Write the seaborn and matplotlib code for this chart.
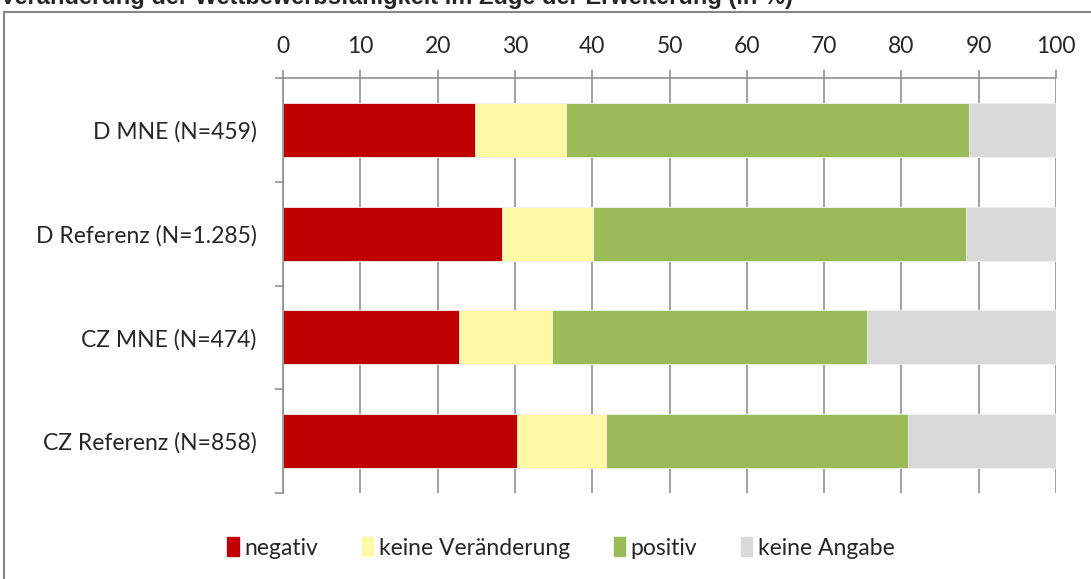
import pandas as pd
import matplotlib.pyplot as plt
import matplotlib.patches as mpatches
import seaborn as sns

sns.set_theme(style="white")
plt.rcParams["font.family"] = ["Lato", "DejaVu Sans"]

# -----------------------------
# DATA (in %)
# -----------------------------
groups = ["D MNE (N=459)", "D Referenz (N=1.285)", "CZ MNE (N=474)", "CZ Referenz (N=858)"]
negativ = [24.9, 28.3, 22.8, 30.3]
keine_veraenderung = [11.7, 11.8, 12.0, 11.5]
positiv = [52.1, 48.2, 40.8, 39.0]
keine_angabe = [11.3, 11.7, 24.4, 19.2]

series_names = ["negativ", "keine Veränderung", "positiv", "keine Angabe"]
colors = ["#C00000", "#FFF9A6", "#9BBB59", "#D9D9D9"]
x_ticks = list(range(0, 101, 10))

df = pd.DataFrame({
    "group": groups,
    "negativ": negativ,
    "keine Veränderung": keine_veraenderung,
    "positiv": positiv,
    "keine Angabe": keine_angabe,
})
# cumulative sums so the bars can be stacked by overlaying
cum = df[series_names].cumsum(axis=1)
cum["group"] = df["group"]

fig = plt.figure(figsize=(10.91, 5.79), dpi=100)
ax = fig.add_axes([283 / 1091, 1 - 493 / 579, (1056 - 283) / 1091, (493 - 78) / 579])

grid_col = "#898989"
fs = 16.5
ax.set_axisbelow(True)
ax.xaxis.grid(True, color=grid_col, linewidth=1.1)

# draw from the last (longest) segment to the first
for name, col in reversed(list(zip(series_names, colors))):
    sns.barplot(data=cum, x=name, y="group", color=col, width=0.52,
                orient="h", ax=ax, saturation=1, edgecolor="#F2F2F2", linewidth=0.6,
                zorder=2)

ax.set_xlim(0, 100)
ax.set_ylim(3.5, -0.5)
ax.set_xlabel("")
ax.set_ylabel("")

# x axis on top
ax.xaxis.tick_top()
ax.set_xticks(x_ticks)
ax.tick_params(axis="x", which="major", length=6, width=1.1, color=grid_col,
               labelsize=fs, pad=9, direction="out")
ax.tick_params(axis="y", which="major", length=0, labelsize=fs, pad=19)
ax.set_yticks(range(len(groups)), groups)
ax.set_yticks([-0.5, 0.5, 1.5, 2.5, 3.5], minor=True)
ax.tick_params(axis="y", which="minor", length=6, width=1.1, color=grid_col, left=True)

for s in ["right", "bottom"]:
    ax.spines[s].set_visible(False)
for s in ["top", "left"]:
    ax.spines[s].set_color(grid_col)
    ax.spines[s].set_linewidth(1.1)

# legend in the requested order
handles = [mpatches.Patch(color=c, label=n) for n, c in zip(series_names, colors)]
fig.legend(handles=handles, loc="center", bbox_to_anchor=(561 / 1091, 1 - 548 / 579),
           ncol=4, frameon=False, fontsize=fs, handlelength=0.5, handleheight=0.9,
           handletextpad=0.25, columnspacing=1.9)

# outer chart frame (clipped by the image edges)
fig.patches.append(mpatches.Rectangle((4 / 1091, -0.1), 2, 1 - 12 / 579 + 0.1,
                                      transform=fig.transFigure, fill=False,
                                      edgecolor="#868686", linewidth=1.5))

# title, cut off at the top of the image as in the original
fig.text(0.0, 1 - 4 / 579, "Veränderung der Wettbewerbsfähigkeit im Zuge der Erweiterung (in %)",
         ha="left", va="baseline", fontsize=17, fontweight="bold",
         family=["Liberation Sans", "DejaVu Sans"])

fig.savefig("out.png", dpi=100)
